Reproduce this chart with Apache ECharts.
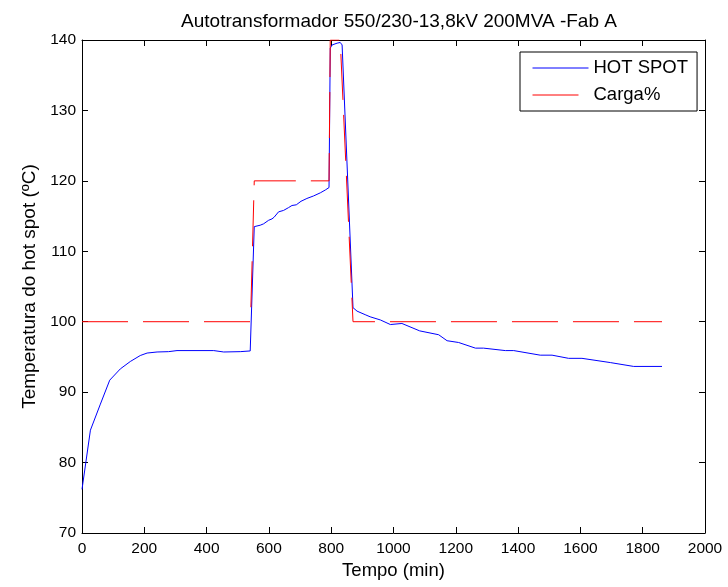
<!DOCTYPE html>
<html>
<head>
<meta charset="utf-8">
<script src="https://cdn.jsdelivr.net/npm/echarts@6/dist/echarts.min.js"></script>
<style>html,body{margin:0;padding:0;background:#fff;}#c{width:728px;height:587px;}</style>
</head>
<body>
<div id="c"></div>
<script>
var titleText = 'Autotransformador 550/230-13,8kV 200MVA -Fab A';
var xLabel = 'Tempo (min)';
var yLabel = 'Temperatura do hot spot (ºC)';
var seriesNames = ['HOT SPOT', 'Carga%'];

var hotSpotX = [0, 27, 59, 89, 123, 155, 187, 209, 241, 278, 305, 423, 455, 508, 540, 553, 572, 583, 599, 610, 617, 631, 647, 663, 674, 688, 703, 722, 743, 765, 781, 793, 797, 803, 819, 829, 835, 870, 883, 909, 925, 958, 990, 1027, 1084, 1145, 1172, 1209, 1263, 1289, 1359, 1386, 1471, 1509, 1562, 1605, 1696, 1771, 1862];
var hotSpotY = [76.2, 84.6, 88.3, 91.7, 93.3, 94.35, 95.2, 95.55, 95.7, 95.75, 95.9, 95.9, 95.7, 95.75, 95.85, 113.5, 113.7, 113.9, 114.4, 114.6, 114.85, 115.6, 115.8, 116.2, 116.5, 116.6, 117.1, 117.5, 117.85, 118.3, 118.7, 119.05, 138.85, 139.3, 139.55, 139.65, 139.3, 102.0, 101.5, 101.0, 100.7, 100.25, 99.6, 99.75, 98.7, 98.15, 97.3, 97.05, 96.25, 96.25, 95.9, 95.9, 95.25, 95.25, 94.8, 94.8, 94.2, 93.65, 93.65];

var cargaX = [0, 541, 553, 793, 797, 829, 870, 1862];
var cargaY = [100, 100, 120, 120, 140, 140, 100, 100];

var xTicks = {min: 0, max: 2000, interval: 200};
var yTicks = {min: 70, max: 140, interval: 10};

function pairs(xs, ys) { return xs.map(function (x, i) { return [x, ys[i]]; }); }

var FONT = "'Liberation Sans', Arial, sans-serif";
var dashPattern = [46, 15];

var chart = echarts.init(document.getElementById('c'), null, {renderer: 'canvas'});
var axisCommon = {
  axisLine: {show: true, onZero: false, lineStyle: {color: '#000', width: 1}},
  axisTick: {show: true, inside: true, length: 6, lineStyle: {color: '#000', width: 1}},
  splitLine: {show: false}
};
function plain(v) { return String(v); }
chart.setOption({
  animation: false,
  backgroundColor: '#fff',
  title: {
    text: titleText, left: 394, top: 7, textAlign: 'center',
    textStyle: {fontFamily: FONT, fontSize: 19, fontWeight: 'normal', color: '#000'}
  },
  grid: {left: 82, right: 23, top: 40, bottom: 54, containLabel: false},
  legend: {
    orient: 'vertical', left: 520, top: 52,
    borderColor: '#000', borderWidth: 1, backgroundColor: '#fff',
    padding: [6, 9, 6, 12], itemGap: 7, itemWidth: 56, itemHeight: 20,
    itemStyle: {opacity: 0},
    textStyle: {fontFamily: FONT, fontSize: 18.5, color: '#000', lineHeight: 20},
    data: [
      {name: seriesNames[0], lineStyle: {width: 1}},
      {name: seriesNames[1], lineStyle: {width: 1}}
    ]
  },
  xAxis: [
    Object.assign({
      type: 'value', position: 'bottom', min: xTicks.min, max: xTicks.max, interval: xTicks.interval,
      name: xLabel, nameLocation: 'middle', nameGap: 26,
      nameTextStyle: {fontFamily: FONT, fontSize: 18.5, color: '#000'},
      axisLabel: {fontFamily: FONT, fontSize: 15.5, color: '#000', margin: 8, formatter: plain}
    }, axisCommon),
    Object.assign({
      type: 'value', position: 'top', min: xTicks.min, max: xTicks.max, interval: xTicks.interval,
      axisLabel: {show: false}
    }, axisCommon)
  ],
  yAxis: [
    Object.assign({
      type: 'value', position: 'left', min: yTicks.min, max: yTicks.max, interval: yTicks.interval,
      name: yLabel, nameLocation: 'middle', nameGap: 38,
      nameTextStyle: {fontFamily: FONT, fontSize: 19, color: '#000'},
      axisLabel: {fontFamily: FONT, fontSize: 15.5, color: '#000', margin: 6, formatter: plain}
    }, axisCommon),
    Object.assign({
      type: 'value', position: 'right', min: yTicks.min, max: yTicks.max, interval: yTicks.interval,
      axisLabel: {show: false}
    }, axisCommon)
  ],
  series: [
    {
      name: seriesNames[0], type: 'line', data: pairs(hotSpotX, hotSpotY),
      xAxisIndex: 0, yAxisIndex: 0, symbol: 'none', smooth: false,
      lineStyle: {color: '#0000ff', width: 1}, itemStyle: {color: '#0000ff'}
    },
    {
      name: seriesNames[1], type: 'line', data: pairs(cargaX, cargaY),
      xAxisIndex: 0, yAxisIndex: 0, symbol: 'none', smooth: false,
      lineStyle: {color: '#ff0000', width: 1, type: dashPattern}, itemStyle: {color: '#ff0000'}
    }
  ]
});
</script>
</body>
</html>
